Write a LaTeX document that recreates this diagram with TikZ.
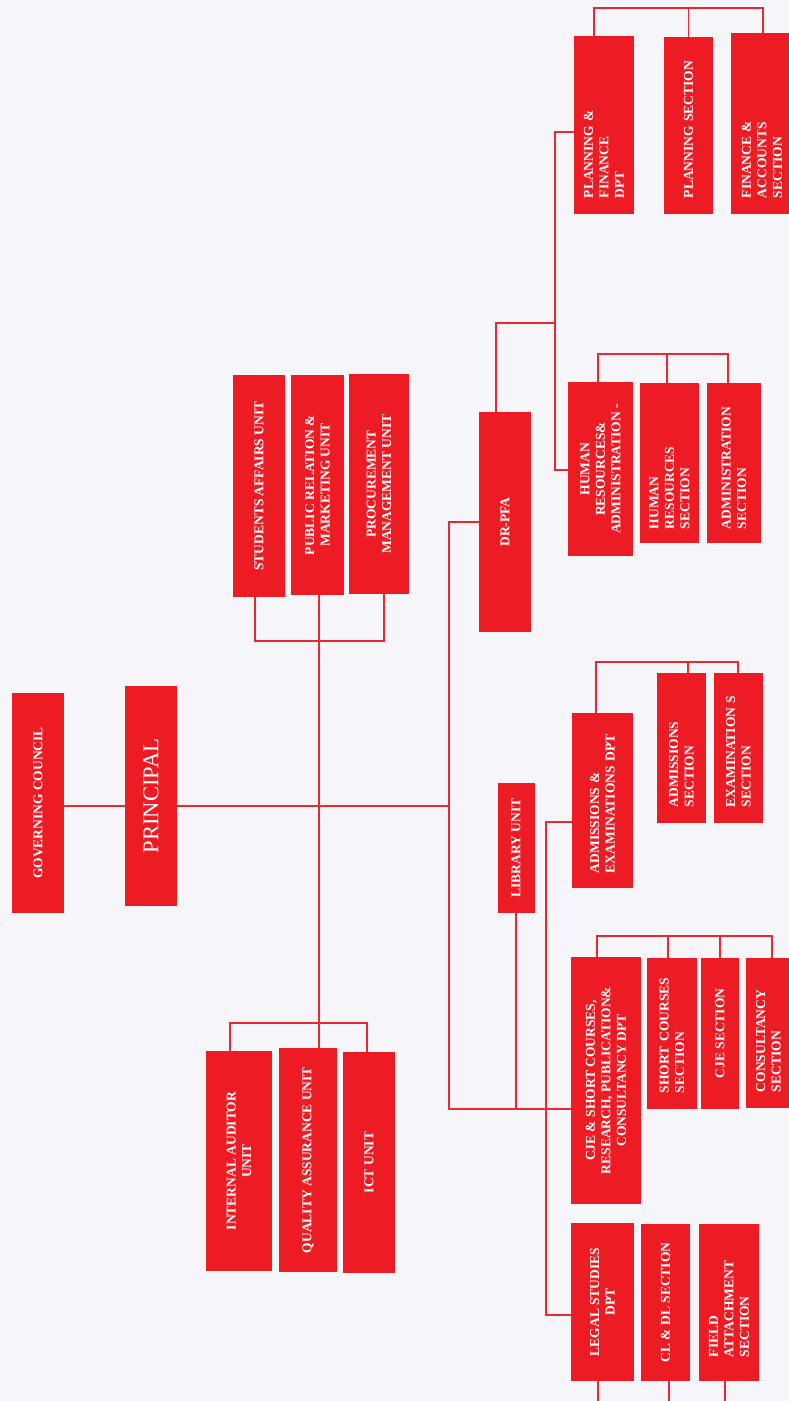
\documentclass[tikz,border=0pt]{standalone}
\usepackage{fontspec}
\setmainfont{Liberation Serif}
\usepackage{tikz}
\usetikzlibrary{calc}
\definecolor{orgred}{RGB}{237,28,36}
\definecolor{linered}{RGB}{234,40,50}
\definecolor{pagebg}{RGB}{245,245,250}
\tikzset{
  orgbox/.style={rectangle, fill=orgred, text=white, rotate=90, align=center, inner sep=2pt, font=\bfseries\fontsize{13.5}{15.5}\selectfont},
  leftbox/.style={orgbox, align=left, inner xsep=16pt},
  headbox/.style={orgbox, font=\fontsize{22.6}{26}\selectfont},
  conn/.style={draw=linered, line width=1.3pt}
}
\newcommand{\stub}[2]{\draw[conn] (#1) |- (#2);}

\begin{document}
\begin{tikzpicture}[x=1pt, y=-1pt]

\fill[pagebg] (0,0) rectangle (789,1401);
\useasboundingbox (0,0) rectangle (789,1401);

\node[orgbox, minimum width=220pt, minimum height=52pt] (gc) at (38,803) {GOVERNING COUNCIL};
\node[headbox, minimum width=220pt, minimum height=52pt] (principal) at (151,796) {PRINCIPAL};

\node[orgbox, minimum width=222pt, minimum height=52pt] (students) at (259,486) {STUDENTS AFFAIRS UNIT};
\node[orgbox, minimum width=220pt, minimum height=53pt] (pubrel) at (317.5,485) {PUBLIC RELATION \&\\MARKETING UNIT};
\node[orgbox, minimum width=220pt, minimum height=60pt] (procure) at (379,484) {PROCUREMENT\\MANAGEMENT UNIT};
\node[orgbox, minimum width=220pt, minimum height=66pt] (audit) at (239,1161) {INTERNAL AUDITOR\\UNIT};
\node[orgbox, minimum width=224pt, minimum height=58pt] (qa) at (308,1160) {QUALITY ASSURANCE UNIT};
\node[orgbox, minimum width=221pt, minimum height=52pt] (ict) at (369,1162.5) {ICT UNIT};

\node[orgbox, minimum width=220pt, minimum height=52pt] (drpfa) at (505,522) {DR-PFA};
\node[orgbox, minimum width=130pt, minimum height=37pt] (library) at (516,848) {LIBRARY UNIT};

\node[leftbox, text width=146pt, minimum height=60pt] (planfin) at (604,125) {PLANNING \&\\FINANCE\\DPT};
\node[leftbox, text width=145pt, minimum height=49pt] (plansec) at (688.5,125.5) {PLANNING SECTION};
\node[leftbox, text width=149pt, minimum height=62pt] (finsec) at (762,123.5) {FINANCE \&\\ACCOUNTS\\SECTION};

\node[orgbox, minimum width=174pt, minimum height=65pt] (hradm) at (600.5,469) {HUMAN\\RESOURCES\&\\ADMINISTRATION -};
\node[leftbox, inner xsep=14pt, text width=132pt, minimum height=59pt] (hrsec) at (669.5,463) {HUMAN\\RESOURCES\\SECTION};
\node[leftbox, inner xsep=14pt, text width=132pt, minimum height=54pt] (admsec) at (734,463) {ADMINISTRATION\\SECTION};

\node[leftbox, inner xsep=15pt, text width=145pt, minimum height=61pt] (admexdpt) at (602.5,800.5) {ADMISSIONS \&\\EXAMINATIONS DPT};
\node[leftbox, text width=118pt, minimum height=49pt] (admissec) at (681.5,748) {ADMISSIONS\\SECTION};
\node[leftbox, text width=118pt, minimum height=49pt] (examsec) at (738.5,748) {EXAMINATION S\\SECTION};

\node[orgbox, minimum width=247pt, minimum height=70pt] (cjedpt) at (606,1080.5) {CJE \& SHORT COURSES,\\RESEARCH, PUBLICATION\&\\CONSULTANCY DPT};
\node[leftbox, text width=119pt, minimum height=50pt] (shortsec) at (672,1033.5) {SHORT COURSES\\SECTION};
\node[orgbox, minimum width=151pt, minimum height=38pt] (cjesec) at (720,1033.5) {CJE SECTION};
\node[leftbox, text width=118pt, minimum height=45pt] (conssec) at (768.5,1033) {CONSULTANCY\\SECTION};

\node[orgbox, minimum width=158pt, minimum height=63pt] (legaldpt) at (602.5,1302) {LEGAL STUDIES\\DPT};
\node[orgbox, minimum width=157pt, minimum height=49pt] (cldl) at (665.5,1302.5) {CL \& DL SECTION};
\node[leftbox, inner xsep=24pt, text width=109pt, minimum height=60pt] (fieldsec) at (729,1302.5) {FIELD\\ATTACHMENT\\SECTION};

% main line
\coordinate (spine) at (449,806);
\draw[conn] (gc.south |- spine) -- (principal.north |- spine);
\draw[conn] (principal.south |- spine) -- (spine);

% units
\coordinate (ut-bar) at (319,641);
\coordinate (ub-bar) at (319,1023);
\draw[conn] (ut-bar |- pubrel.west) -- (ub-bar |- qa.east);
\stub{[xshift=-4pt]students.west}{ut-bar}
\stub{[xshift=5pt]procure.west}{ut-bar}
\stub{[xshift=-9pt]audit.east}{ub-bar}
\stub{[xshift=-2pt]ict.east}{ub-bar}

% departments
\coordinate (cje-link) at (449,1109);
\draw[conn] (drpfa.north) -| (cje-link) -- (cje-link -| cjedpt.north);
\draw[conn] (library.west) -- (library.west |- cje-link);

\coordinate (ae-link) at (546,822);
\coordinate (lg-link) at (546,1315);
\draw[conn] (ae-link -| admexdpt.north) -- (ae-link) -- (lg-link) -- (lg-link -| legaldpt.north);

\coordinate (pfa-link) at (555,323);
\coordinate (pf-link) at (555,132);
\coordinate (hr-link) at (555,470);
\draw[conn] ([xshift=-9pt]drpfa.east) |- (pfa-link);
\draw[conn] (pf-link -| planfin.north) -- (pf-link) -- (hr-link) -- (hr-link -| hradm.north);

% sections
\coordinate (pf-bar) at (688,8);
\stub{[xshift=-10pt]planfin.east}{pf-bar}
\stub{plansec.east}{pf-bar}
\stub{[xshift=1pt]finsec.east}{pf-bar}

\coordinate (hr-bar) at (667,354);
\stub{[xshift=-2.5pt]hradm.east}{hr-bar}
\stub{[xshift=-2.5pt]hrsec.east}{hr-bar}
\stub{[xshift=-6pt]admsec.east}{hr-bar}

\coordinate (ae-bar) at (688,662);
\stub{[xshift=-6.5pt]admexdpt.east}{ae-bar}
\stub{[xshift=6.5pt]admissec.east}{ae-bar}
\stub{[xshift=-0.5pt]examsec.east}{ae-bar}

\coordinate (cje-bar) at (720,936);
\stub{[xshift=-9pt]cjedpt.east}{cje-bar}
\stub{[xshift=-4pt]shortsec.east}{cje-bar}
\stub{cjesec.east}{cje-bar}
\stub{[xshift=3.5pt]conssec.east}{cje-bar}

\coordinate (lg-bar) at (669,1412);
\stub{[xshift=-4.5pt]legaldpt.west}{lg-bar}
\stub{[xshift=3.5pt]cldl.west}{lg-bar}
\stub{[xshift=-4pt]fieldsec.west}{lg-bar}

\end{tikzpicture}
\end{document}
